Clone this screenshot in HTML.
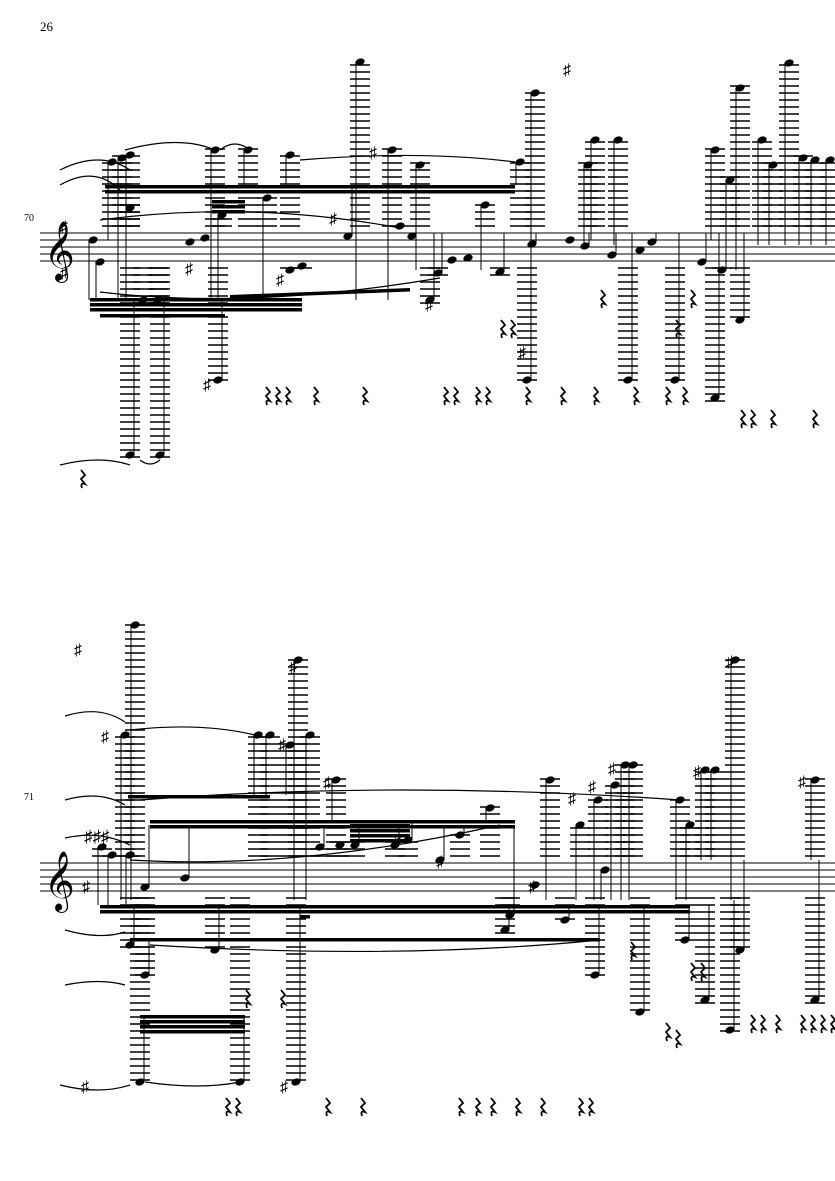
<!DOCTYPE html>
<html><head><meta charset="utf-8"><style>
html,body{margin:0;padding:0;background:#fff;width:835px;height:1181px;overflow:hidden}
svg{display:block}
text{font-family:"Liberation Serif","DejaVu Serif",serif}
</style></head><body>
<svg id="s" width="835" height="1181" xmlns="http://www.w3.org/2000/svg">
<text x="40" y="31" font-size="13">26</text>
<text x="24" y="221" font-size="10">70</text>
<text x="24" y="800" font-size="10">71</text>
<g stroke="#000" stroke-width="1">
<line x1="40" y1="233" x2="835" y2="233"/><line x1="40" y1="240" x2="835" y2="240"/><line x1="40" y1="247" x2="835" y2="247"/><line x1="40" y1="254" x2="835" y2="254"/><line x1="40" y1="261" x2="835" y2="261"/>
<line x1="40" y1="863" x2="835" y2="863"/><line x1="40" y1="870" x2="835" y2="870"/><line x1="40" y1="877" x2="835" y2="877"/><line x1="40" y1="884" x2="835" y2="884"/><line x1="40" y1="891" x2="835" y2="891"/>
</g>
<text x="44" y="268" font-size="52" font-family="DejaVu Sans">𝄞</text>
<text x="44" y="898" font-size="52" font-family="DejaVu Sans">𝄞</text>
<g id="g"></g>
</svg>
<script>
var g=document.getElementById('g'),ns='http://www.w3.org/2000/svg';
function el(t,a){var e=document.createElementNS(ns,t);for(var k in a)e.setAttribute(k,a[k]);g.appendChild(e);return e;}
function ln(x1,y1,x2,y2,w){el('line',{x1:x1,y1:y1,x2:x2,y2:y2,stroke:'#000','stroke-width':w||1});}
function note(top,x,y,sy){
 var bot=top+28;
 if(y<top-3){for(var ly=top-7;ly>=y-3;ly-=7)ln(x-10,ly,x+10,ly,1.4);}
 if(y>bot+3){for(var ly=bot+7;ly<=y+3;ly+=7)ln(x-10,ly,x+10,ly,1.4);}
 el('ellipse',{cx:x,cy:y,rx:4.8,ry:3.4,transform:'rotate(-20 '+x+' '+y+')',fill:'#000'});
 if(sy!==undefined){var sx=sy<y?x+4:x-4;ln(sx,y,sx,sy,1);}
}
function beam(x1,y1,x2,y2,n){for(var i=0;i<n;i++)el('polygon',{points:x1+','+(y1+i*5)+' '+x2+','+(y2+i*5)+' '+x2+','+(y2+i*5+3.5)+' '+x1+','+(y1+i*5+3.5),fill:'#000'});}
function rest(x,y){y=y-10;el('path',{d:'M'+(x+1)+' '+y+' l4 5 l-4 4 l4 5 q-5 -2 -3 4',fill:'none',stroke:'#000','stroke-width':1.8});}
function txt(x,y,s,f){var t=el('text',{x:x,y:y,'font-size':f||16});t.textContent=s;}
var T=233;
[[112,162,240],[122,158,300],[130,155,300],[215,150,300],[248,150,185],[290,155,185],[267,198,300],[360,62,300],[392,150,300],[420,165,270],[485,205,270],[520,162,185],[535,93,240],[588,165,245],[595,140,240],[618,140,245],[715,150,240],[740,88,270],[762,140,245],[773,165,245],[789,63,245],[803,158,245],[815,160,245],[830,160,245],[730,180,245],
[93,240,300],[100,262,300],[130,208,300],[190,242],[205,238],[222,215,300],[290,270],[302,266],[348,236,185],[400,226],[412,236],[438,273,233],[452,260],[468,258],[500,272,233],[532,244,233],[570,240],[585,246,233],[612,255,233],[640,250],[652,242,233],[702,262,233],[722,270,233]].forEach(function(n){note(T,n[0],n[1],n[2]);});
[[130,455,300],[160,455,300],[218,380,300],[430,300,233],[527,380,233],[628,380,233],[675,380,233],[715,398,233],[740,320,233],[158,300],[143,300]].forEach(function(n){note(T,n[0],n[1],n[2]);});
beam(105,185,515,185,2);beam(212,200,245,200,3);beam(90,298,302,298,3);beam(100,314,225,314,1);beam(230,295,410,288,1);
[[265,397],[275,397],[285,397],[313,397],[362,397],[443,397],[453,397],[475,397],[485,397],[525,397],[560,397],[593,397],[633,397],[665,397],[682,397],[740,420],[750,420],[770,420],[812,420],[500,330],[510,330],[600,300],[690,300],[675,330],[80,480]].forEach(function(r){rest(r[0],r[1]);});
txt(563,75,'♯');txt(369,158,'♯');txt(329,224,'♯');txt(185,274,'♯');txt(203,390,'♯');txt(518,358,'♯');txt(276,285,'♯');txt(425,310,'♯');txt(60,232,'♯');txt(60,278,'♯');
el('path',{d:'M60 170 Q100 150 130 170 M60 185 Q95 165 120 190 M125 150 Q180 135 215 150 M220 150 Q235 138 250 150 M300 160 Q420 150 515 162 M100 220 Q250 200 400 228 M100 292 Q250 310 440 278 M60 465 Q100 455 130 465 M140 460 Q150 468 160 460',fill:'none',stroke:'#000','stroke-width':1.2});
T=863;
[[125,735,900],[135,625,900],[258,735,795],[270,735,795],[290,745,795],[298,660,900],[310,735,900],[336,780,820],[408,840,820],[490,808,820],[550,780,900],[580,825,900],[598,800,900],[615,785,900],[625,765,900],[633,765,900],[680,800,900],[690,825,900],[705,770,860],[715,770,860],[735,660,900],[815,780,860],
[102,847,905],[112,855,905],[130,855,905],[145,887,825],[185,878,825],[320,847,825],[340,845],[355,845,825],[395,845,825],[440,860,825],[460,835,825],[510,915,825],[535,885],[605,870,900]].forEach(function(n){note(T,n[0],n[1],n[2]);});
[[140,1082,1015],[240,1082,1015],[296,1082,905],[130,945,905],[215,950,905],[145,975,940],[595,975,905],[640,1012,905],[730,1030,900],[705,1000,905],[815,1000,860],[740,950,860],[685,940,905],[565,920,905],[505,930,905]].forEach(function(n){note(T,n[0],n[1],n[2]);});
beam(128,795,270,795,1);beam(150,820,515,820,2);beam(100,905,690,905,2);beam(350,824,410,824,4);beam(130,938,600,938,1);beam(140,1015,245,1015,4);beam(300,905,310,905,3);
[[225,1108],[235,1108],[325,1108],[360,1108],[458,1108],[475,1108],[490,1108],[515,1108],[540,1108],[578,1108],[588,1108],[245,1000],[280,1000],[630,952],[665,1033],[690,973],[700,973],[750,1025],[760,1025],[775,1025],[800,1025],[810,1025],[820,1025],[830,1025],[675,1040]].forEach(function(r){rest(r[0],r[1]);});
txt(74,655,'♯');txt(101,742,'♯');txt(278,750,'♯');txt(289,672,'♯');txt(323,788,'♯');txt(393,847,'♯');txt(436,867,'♯');txt(528,892,'♯');txt(568,804,'♯');txt(588,792,'♯');txt(608,774,'♯');txt(693,777,'♯');txt(726,667,'♯');txt(798,787,'♯');txt(280,1092,'♯');txt(81,1092,'♯');txt(84,842,'♯♯♯',17);txt(82,892,'♯');
el('path',{d:'M65 716 Q100 705 125 722 M65 800 Q100 790 125 805 M65 838 Q100 830 130 845 M65 930 Q100 940 125 932 M65 985 Q100 978 125 985 M60 1085 Q100 1095 130 1085 M130 730 Q200 722 255 735 M140 800 Q400 780 680 800 M130 860 Q300 870 500 825 M150 945 Q400 960 600 940 M145 1082 Q200 1090 240 1082',fill:'none',stroke:'#000','stroke-width':1.2});
</script>
</body></html>
